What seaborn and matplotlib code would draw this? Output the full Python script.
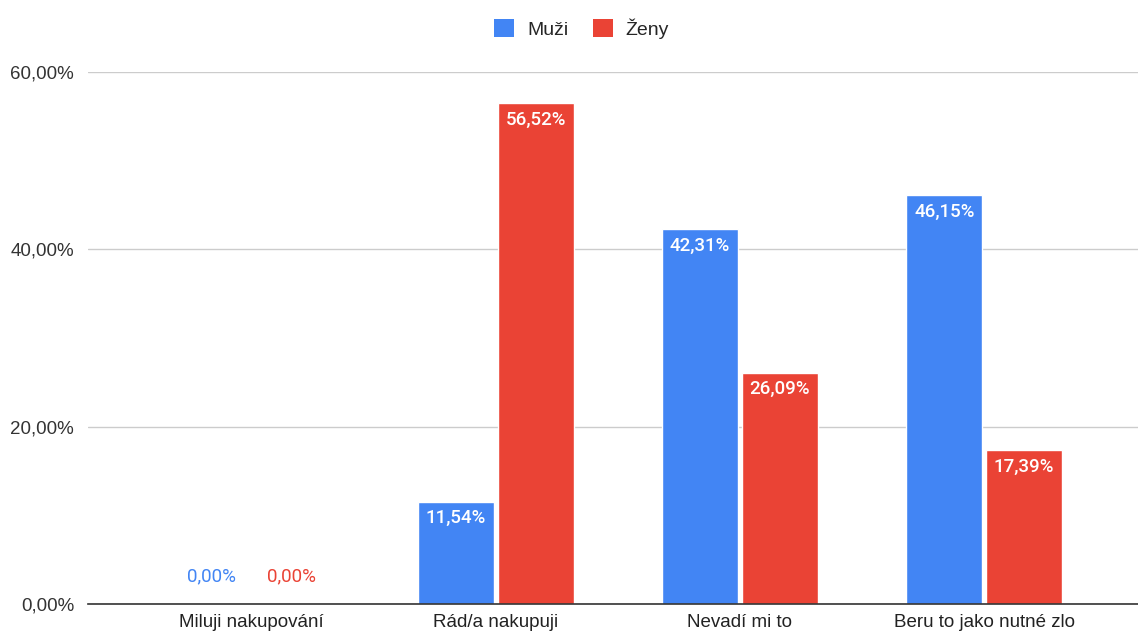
import matplotlib
matplotlib.use("Agg")
import matplotlib.pyplot as plt
import pandas as pd
import seaborn as sns
from matplotlib.patches import Patch

# ==========================
# DATA
# ==========================

kategorie = ["Miluji nakupování", "Rád/a nakupuji", "Nevadí mi to", "Beru to jako nutné zlo"]
muzi = [0.00, 11.54, 42.31, 46.15]
zeny = [0.00, 56.52, 26.09, 17.39]
serie = ["Muži", "Ženy"]
y_ticks = [0, 20, 40, 60]

BARVY = {"Muži": "#4285F4", "Ženy": "#EA4335"}

df = pd.DataFrame({
    "kategorie": kategorie * 2,
    "hodnota": muzi + zeny,
    "pohlavi": [serie[0]] * len(kategorie) + [serie[1]] * len(kategorie),
})

# ==========================
# GRAF
# ==========================

sns.set_style("white")
plt.rcParams["font.family"] = ["Liberation Sans", "DejaVu Sans"]

fig = plt.figure(figsize=(11.38, 6.31), dpi=100)
ax = fig.add_axes([0.0773, 0.0428, 0.9227, 0.8430])

sns.barplot(
    data=df,
    x="kategorie",
    y="hodnota",
    hue="pohlavi",
    order=kategorie,
    hue_order=serie,
    palette=BARVY,
    width=0.654,
    gap=0.05,
    saturation=1,
    legend=False,
    ax=ax,
)

ax.set_xlim(-0.67, 3.63)
ax.set_ylim(0, 60)
ax.set_yticks(y_ticks)
ax.set_yticklabels([f"{v:.2f}".replace(".", ",") + "%" for v in y_ticks])
ax.grid(axis="y", color="#cccccc", linewidth=1)
ax.set_axisbelow(True)
ax.set_xlabel("")
ax.set_ylabel("")

for s in ["top", "right", "left"]:
    ax.spines[s].set_visible(False)
ax.spines["bottom"].set_color("#333333")
ax.spines["bottom"].set_linewidth(1.2)

ax.tick_params(axis="y", length=0, pad=10, labelsize=13.5, labelcolor="#333333")
ax.tick_params(axis="x", length=0, pad=7, labelsize=13.5, labelcolor="#222222")

# popisky hodnot
for container, nazev in zip(ax.containers, serie):
    for bar in container:
        h = bar.get_height()
        text = f"{h:.2f}".replace(".", ",") + "%"
        x = bar.get_x() + bar.get_width() / 2
        if h > 3:
            ax.annotate(text, (x, h), xytext=(0, -12), textcoords="offset points",
                        ha="center", va="center", color="white", fontsize=13.5,
                        fontweight="medium", family=["Roboto", "DejaVu Sans"])
        else:
            ax.annotate(text, (x, h), xytext=(0, 20), textcoords="offset points",
                        ha="center", va="center", color=BARVY[nazev], fontsize=13.5,
                        family=["Roboto", "DejaVu Sans"])

handles = [Patch(facecolor=BARVY[s], edgecolor="none") for s in serie]
fig.legend(handles, serie, loc="center", bbox_to_anchor=(0.511, 0.955), ncol=2,
           frameon=False, fontsize=14, handlelength=1.05, handleheight=1.05,
           handletextpad=0.65, columnspacing=1.25)

fig.savefig("out.png", dpi=100)
